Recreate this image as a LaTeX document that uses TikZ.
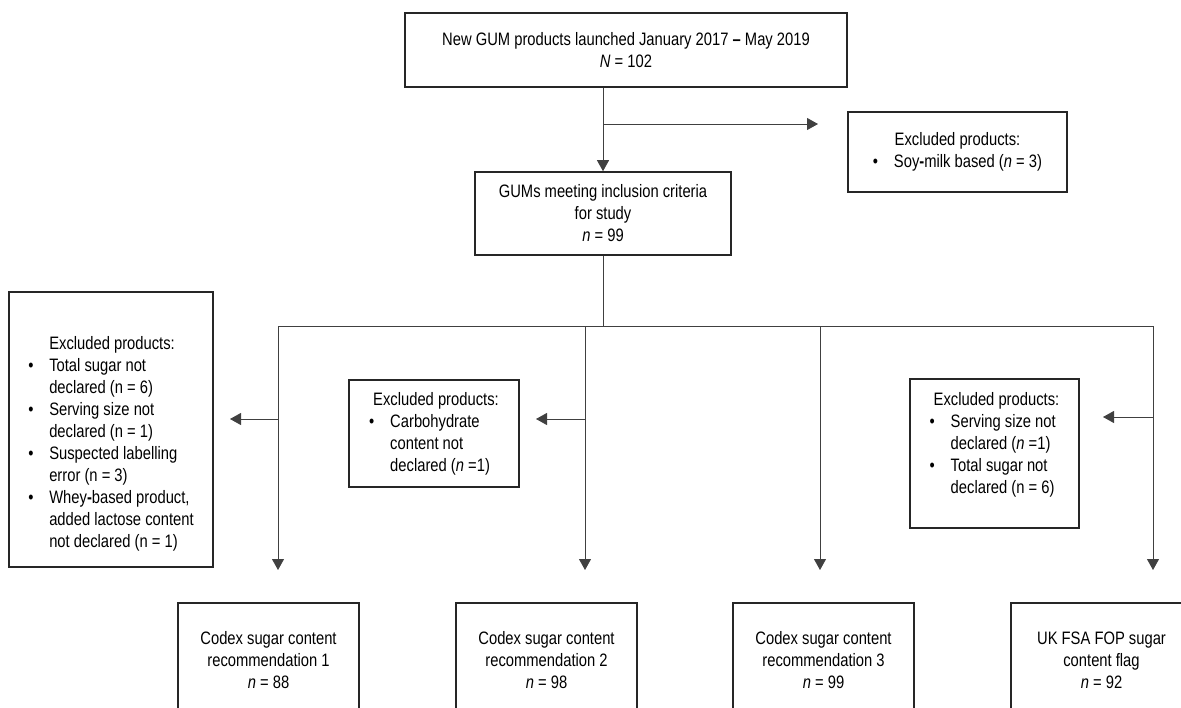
\documentclass[tikz,border=0pt]{standalone}
\usepackage{fontspec}
\setmainfont[FakeStretch=0.82]{Liberation Sans}
\usetikzlibrary{positioning,arrows.meta}
\newcommand{\blt}{\makebox[21pt][l]{\textbullet}}
\newcommand{\hang}{\hspace*{21pt}}

\begin{document}
\begin{tikzpicture}[x=1pt,y=-1pt,
    box/.style={rectangle, draw=black!85, line width=1.6pt, inner sep=0pt,
                font=\fontsize{18}{22}\selectfont},
    line/.style={draw=black!75, line width=0.9pt},
    arr/.style={line, -{Triangle[length=11pt,width=12pt]}}]
    \clip (0,0) rectangle (1181,707);
    \useasboundingbox (0,0) rectangle (1181,707);

    % Source and first exclusion
    \node[box, minimum width=442pt, minimum height=74pt, align=center] (launched) at (626,50) {
        New GUM products launched January 2017 \textbf{–} May 2019 \\
        \textit{N} = 102
    };
    \node[box, minimum width=219pt, minimum height=80pt, align=center] (soy) at (957.5,152) {
        Excluded products: \\
        \blt Soy\textbf{-}milk based (\textit{n} = 3)
    };
    \node[box, minimum width=256pt, minimum height=83pt, align=center] (included) at (603,213.5) {
        GUMs meeting inclusion criteria \\
        for study \\
        \textit{n} = 99
    };

    % Exclusions per analysis
    \node[box, minimum width=204pt, minimum height=275pt, align=left] (exclA) at (111,429.5) {
        \mbox{} \\[20pt]
        \hang Excluded products: \\
        \blt Total sugar not \\
        \hang declared (n = 6) \\
        \blt Serving size not \\
        \hang declared (n = 1) \\
        \blt Suspected labelling \\
        \hang error (n = 3) \\
        \blt Whey\textbf{-}based product, \\
        \hang added lactose content \\
        \hang not declared (n = 1)
    };
    \node[box, minimum width=170pt, minimum height=107pt, align=left] (exclB) at (434,433.5) {
        \hspace*{4pt}Excluded products: \\
        \blt Carbohydrate \\
        \hang content not \\
        \hang declared (\textit{n} =1)
    };
    \node[box, minimum width=169pt, minimum height=149pt, align=left] (exclD) at (994.5,453.5) {
        \hspace*{4pt}Excluded products: \\
        \blt Serving size not \\
        \hang declared (\textit{n} =1) \\
        \blt Total sugar not \\
        \hang declared (n = 6) \\
        \mbox{}
    };

    % Outcome boxes
    \node[box, minimum width=181pt, minimum height=114pt, align=center] (codexA) at (268.5,660) {
        Codex sugar content \\ recommendation 1 \\ \textit{n} = 88};
    \node[box, minimum width=181pt, minimum height=114pt, align=center] (codexB) at (546.5,660) {
        Codex sugar content \\ recommendation 2 \\ \textit{n} = 98};
    \node[box, minimum width=181pt, minimum height=114pt, align=center] (codexC) at (823.5,660) {
        Codex sugar content \\ recommendation 3 \\ \textit{n} = 99};
    \node[box, minimum width=181pt, minimum height=114pt, align=center] (flag) at (1101.5,660) {
        UK FSA FOP sugar \\ content flag \\ \textit{n} = 92};

    % Connectors
    \coordinate (soyin) at (818,124);
    \draw[arr] (launched.south -| included.north) -- (included.north);
    \draw[arr] (soyin -| included.north) -- (soyin);

    \foreach \x/\n in {278/1,585/2,820/3,1153/4}
        \coordinate (b\n) at (\x,326);
    \draw[line] (included.south) -- (included.south |- b1);
    \draw[line] (b1) -- (b4);
    \foreach \n in {1,...,4}
        \draw[arr] (b\n) -- ++(0,244);

    \coordinate (tA) at (230,419);
    \coordinate (tB) at (536,419);
    \coordinate (tD) at (1103,417);
    \draw[arr] (tA -| b1) -- (tA);
    \draw[arr] (tB -| b2) -- (tB);
    \draw[arr] (tD -| b4) -- (tD);
\end{tikzpicture}
\end{document}
